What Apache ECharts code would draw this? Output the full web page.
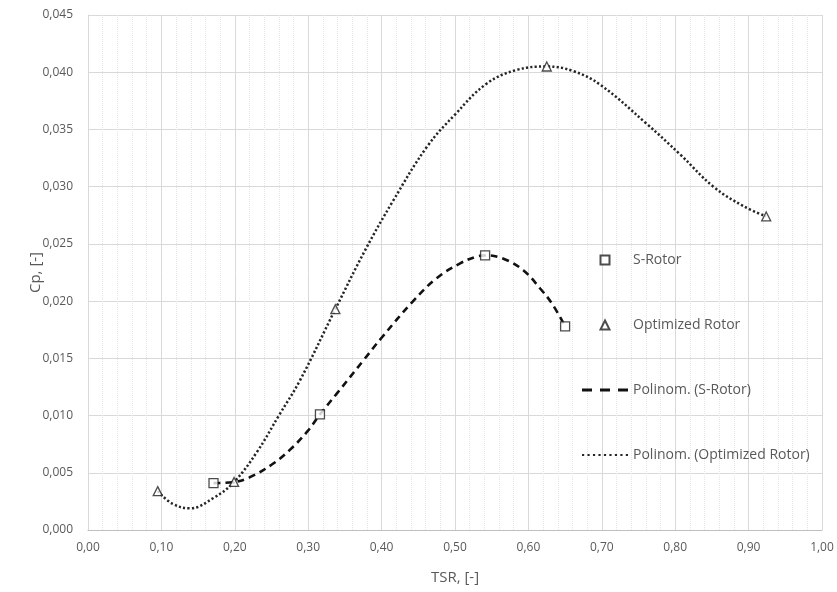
<!DOCTYPE html>
<html>
<head>
<meta charset="utf-8">
<script src="https://cdn.jsdelivr.net/npm/echarts@6/dist/echarts.min.js"></script>
<style>
    html, body { margin: 0; padding: 0; background: #fff; }
    #chart { width: 837px; height: 592px; }
</style>
</head>
<body>
<div id="chart"></div>
<script>
    // measured points
    var sRotor = [[0.171, 0.0041], [0.316, 0.0101], [0.541, 0.0240], [0.650, 0.0178]];
    var optRotor = [[0.095, 0.0034], [0.199, 0.0042], [0.337, 0.0193], [0.625, 0.0405], [0.924, 0.0274]];

    // trend curves
    var sRotorTrend = [
        [0.171, 0.0041], [0.20, 0.0042], [0.22, 0.0046], [0.25, 0.0057], [0.275, 0.0070],
        [0.30, 0.0087], [0.316, 0.0101], [0.34, 0.0120], [0.375, 0.0148], [0.40, 0.0168],
        [0.443, 0.0200], [0.475, 0.0220], [0.507, 0.0233], [0.53, 0.0239], [0.541, 0.0240],
        [0.566, 0.0237], [0.593, 0.0227], [0.616, 0.0211], [0.632, 0.0198], [0.650, 0.0178]
    ];
    var optRotorTrend = [
        [0.095, 0.0034], [0.115, 0.0023], [0.139, 0.0019], [0.171, 0.0028], [0.199, 0.0042],
        [0.23, 0.0068], [0.26, 0.0100], [0.289, 0.0131], [0.337, 0.0193], [0.378, 0.0245],
        [0.416, 0.0288], [0.462, 0.0335], [0.50, 0.0363], [0.543, 0.0390], [0.584, 0.0402],
        [0.625, 0.0405], [0.661, 0.0401], [0.698, 0.0389], [0.761, 0.0355], [0.807, 0.0328],
        [0.852, 0.0300], [0.893, 0.0283], [0.924, 0.0274]
    ];

    var seriesNames = ['S-Rotor', 'Optimized Rotor', 'Polinom. (S-Rotor)', 'Polinom. (Optimized Rotor)'];
    var xTicks = { min: 0, max: 1, interval: 0.1 };
    var yTicks = { min: 0, max: 0.045, interval: 0.005 };

    var textColor = '#595959';
    var fontName = 'Open Sans';

    // legend icons (Excel-like short line samples)
    var squareIcon = 'path://M0,0H10V10H0Z';
    var triangleIcon = 'path://M5,0L10,10H0Z';
    var dashIcon = 'path://M0,0H10V3H0Z M18,0H28V3H18Z M36,0H46V3H36Z';
    var dotIcon = 'path://M0,0h2v2h-2Z M5,0h2v2h-2Z M10,0h2v2h-2Z M15,0h2v2h-2Z M20,0h2v2h-2Z' +
        ' M25,0h2v2h-2Z M30,0h2v2h-2Z M35,0h2v2h-2Z M40,0h2v2h-2Z';

    var option = {
        backgroundColor: '#fff',
        animation: false,
        textStyle: { fontFamily: fontName },
        grid: { left: 88, right: 15, top: 15, bottom: 62 },
        legend: {
            orient: 'vertical',
            left: 577,
            top: 247,
            itemWidth: 46,
            itemHeight: 9,
            itemGap: 49,
            symbolKeepAspect: true,
            textStyle: { color: textColor, fontSize: 14, lineHeight: 16, fontFamily: fontName },
            data: [
                { name: seriesNames[0], icon: squareIcon },
                { name: seriesNames[1], icon: triangleIcon },
                { name: seriesNames[2], icon: dashIcon },
                { name: seriesNames[3], icon: dotIcon }
            ]
        },
        xAxis: {
            type: 'value',
            min: xTicks.min,
            max: xTicks.max,
            interval: xTicks.interval,
            name: 'TSR, [-]',
            nameLocation: 'middle',
            nameGap: 40,
            nameTextStyle: { color: textColor, fontSize: 15 },
            axisLine: { show: true, lineStyle: { color: '#bfbfbf' } },
            axisTick: { show: false },
            axisLabel: {
                color: textColor, fontSize: 12, margin: 12,
                formatter: function (v) { return v.toFixed(2).replace('.', ','); }
            },
            splitLine: { show: true, lineStyle: { color: '#d9d9d9' } },
            minorTick: { show: false, splitNumber: 5 },
            minorSplitLine: { show: true, lineStyle: { color: '#e6e6e6', type: 'dotted' } }
        },
        yAxis: {
            type: 'value',
            min: yTicks.min,
            max: yTicks.max,
            interval: yTicks.interval,
            name: 'Cp, [-]',
            nameLocation: 'middle',
            nameGap: 45,
            nameMoveOverlap: false,
            nameTextStyle: { color: textColor, fontSize: 15 },
            axisLine: { show: true, lineStyle: { color: '#d9d9d9' } },
            axisTick: { show: false },
            axisLabel: {
                color: textColor, fontSize: 12, margin: 15,
                formatter: function (v) { return v.toFixed(3).replace('.', ','); }
            },
            splitLine: { show: true, lineStyle: { color: '#d9d9d9' } }
        },
        series: [
            {
                name: seriesNames[0],
                type: 'scatter',
                symbol: 'rect',
                symbolSize: 9,
                z: 5,
                itemStyle: { color: '#fff', borderColor: '#1f1f1f', borderWidth: 1.3 },
                data: sRotor
            },
            {
                name: seriesNames[1],
                type: 'scatter',
                symbol: 'triangle',
                symbolSize: 9,
                z: 5,
                itemStyle: { color: '#fff', borderColor: '#1f1f1f', borderWidth: 1.3 },
                data: optRotor
            },
            {
                name: seriesNames[2],
                type: 'line',
                smooth: 0.4,
                symbol: 'none',
                z: 3,
                lineStyle: { color: '#111', width: 2.6, type: [7, 5] },
                itemStyle: { color: '#111' },
                data: sRotorTrend
            },
            {
                name: seriesNames[3],
                type: 'line',
                smooth: 0.4,
                symbol: 'none',
                z: 3,
                lineStyle: { color: '#262626', width: 2.5, type: [2.2, 2.2] },
                itemStyle: { color: '#262626' },
                data: optRotorTrend
            }
        ]
    };

    var chart = echarts.init(document.getElementById('chart'));
    chart.setOption(option);
</script>
</body>
</html>
